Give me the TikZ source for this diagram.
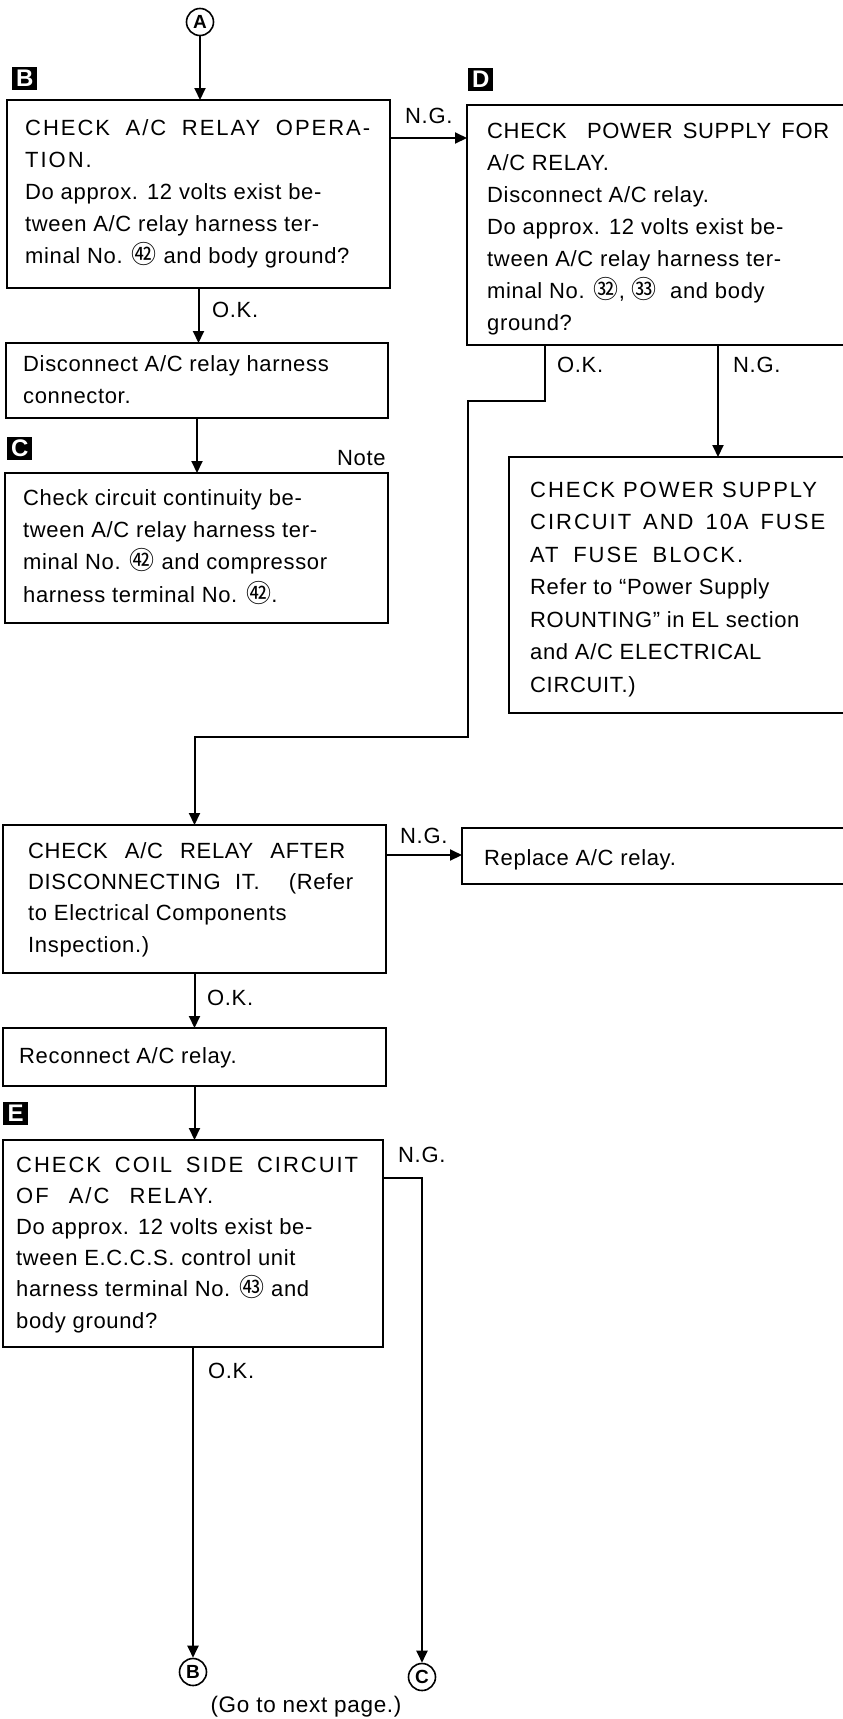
\documentclass[tikz,border=0pt]{standalone}
\usepackage{fontspec}
\setmainfont{Liberation Sans}[LetterSpace=3]
\newfontfamily\cjk{Noto Sans CJK JP}
\usetikzlibrary{arrows.meta}
\newcommand{\cn}[1]{{\cjk\fontsize{25}{25}\selectfont #1}}
\newcommand{\jl}[2]{\makebox[#1pt][s]{#2}}
\newcommand{\hd}[2]{\makebox[#1pt][s]{\addfontfeature{LetterSpace=9}#2}}
\tikzset{
  box/.style={draw, line width=2pt, rectangle, inner sep=0pt, outer sep=0pt, anchor=north west},
  txt/.style={anchor=base west, inner sep=0pt, align=left, font=\fontsize{22}{32}\selectfont},
  lbl/.style={anchor=base west, inner sep=0pt, font=\fontsize{22}{22}\selectfont},
  tag/.style={fill=black, text=white, font=\bfseries\fontsize{24}{24}\selectfont, inner sep=0pt, minimum width=25pt, minimum height=23pt, anchor=north west},
  conn/.style={draw, circle, line width=1.6pt, inner sep=0pt, minimum size=27pt, font=\bfseries\fontsize{19}{19}\selectfont},
  arr/.style={line width=2pt, -{Triangle[length=12pt,width=11pt]}}
}
\begin{document}
\begin{tikzpicture}[x=1pt,y=-1pt]
\fill[white] (0,0) rectangle (843,1719);
\clip (0,0) rectangle (843,1719);
% tags and connectors
\node[tag] (tB) at (12,67) {B};
\node[tag] (tD) at (468,68) {D};
\node[tag] (tC) at (7,437) {C};
\node[tag] (tE) at (3,1102) {E};
\node[conn] (cA) at (200,22) {A};
\node[conn] (cB) at (193,1672) {B};
\node[conn] (cC) at (422,1677) {C};
% boxes
\node[box, minimum width=383pt, minimum height=188pt] (bB) at (7,100) {};
\node[box, minimum width=382pt, minimum height=75pt] (bDi) at (6,343) {};
\node[box, minimum width=383pt, minimum height=150pt] (bC) at (5,473) {};
\node[box, minimum width=400pt, minimum height=240pt] (bD) at (467,105) {};
\node[box, minimum width=360pt, minimum height=256pt] (bPS) at (509,457) {};
\node[box, minimum width=383pt, minimum height=148pt] (bRA) at (3,825) {};
\node[box, minimum width=400pt, minimum height=56pt] (bRep) at (462,828) {};
\node[box, minimum width=383pt, minimum height=58pt] (bRec) at (3,1028) {};
\node[box, minimum width=380pt, minimum height=207pt] (bE) at (3,1140) {};
% texts (anchored at the baseline of the last line)
\node[txt] (xB) at (25,263) {\hd{345}{CHECK A/C RELAY OPERA-}\\\addfontfeature{LetterSpace=9}TION.\\Do approx. 12 volts exist be-\\tween A/C relay harness ter-\\minal No. \cn{㊷} and body ground?};
\node[txt] (xDi) at (23,403) {Disconnect A/C relay harness\\connector.};
\node[txt, font=\fontsize{22}{32.3}\selectfont] (xC) at (23,602) {Check circuit continuity be-\\tween A/C relay harness ter-\\minal No. \cn{㊷} and compressor\\harness terminal No. \cn{㊷}.};
\node[txt] (xD) at (487,330) {\jl{342}{CHECK\ \ POWER SUPPLY FOR}\\A/C RELAY.\\Disconnect A/C relay.\\Do approx. 12 volts exist be-\\tween A/C relay harness ter-\\minal No. \cn{㉜}, \cn{㉝}\ \ and body\\ground?};
\node[txt, font=\fontsize{22}{32.5}\selectfont] (xPS) at (530,692) {\hd{287}{CHECK POWER SUPPLY}\\\hd{295}{CIRCUIT AND 10A FUSE}\\\hd{213}{AT FUSE BLOCK.}\\Refer to “Power Supply\\ROUNTING” in EL section\\and A/C ELECTRICAL\\CIRCUIT.)};
\node[txt, font=\fontsize{22}{31.3}\selectfont] (xRA) at (28,952) {\jl{317}{CHECK A/C RELAY AFTER}\\\jl{325}{DISCONNECTING IT.\ \ (Refer}\\to Electrical Components\\Inspection.)};
\node[txt] (xRep) at (484,865) {Replace A/C relay.};
\node[txt] (xRec) at (19,1063) {Reconnect A/C relay.};
\node[txt, font=\fontsize{22}{31.2}\selectfont] (xE) at (16,1328) {\hd{342}{CHECK COIL SIDE CIRCUIT}\\\hd{197}{OF A/C RELAY.}\\Do approx. 12 volts exist be-\\tween E.C.C.S. control unit\\harness terminal No. \cn{㊸} and\\body ground?};
% labels
\node[lbl] (l1) at (405,123) {N.G.};
\node[lbl] (l2) at (212,317) {O.K.};
\node[lbl] (l3) at (337,465) {Note};
\node[lbl] (l4) at (557,372) {O.K.};
\node[lbl] (l5) at (733,372) {N.G.};
\node[lbl] (l6) at (400,843) {N.G.};
\node[lbl] (l7) at (207,1005) {O.K.};
\node[lbl] (l8) at (398,1162) {N.G.};
\node[lbl] (l9) at (208,1378) {O.K.};
\node[anchor=base, inner sep=0pt, font=\fontsize{22.5}{22.5}\selectfont] (go) at (306,1712) {(Go to next page.)};
% connectors
\draw[arr] (cA) -- (cA |- bB.north);
\coordinate (p1) at (390,138);
\draw[arr] (bB.east |- p1) -- (p1 -| bD.west);
\draw[arr] (bB.south) -- (bB.south |- bDi.north);
\draw[arr] (bDi.south) -- (bDi.south |- bC.north);
\coordinate (d1) at (545,401);
\coordinate (d2) at (468,737);
\draw[arr] (bD.south -| d1) -- (d1) -- (d1 -| d2) -- (d2) -- (d2 -| bRA.north) -- (bRA.north);
\coordinate (d3) at (718,400);
\draw[arr] (bD.south -| d3) -- (bPS.north -| d3);
\coordinate (p2) at (0,855);
\draw[arr] (bRA.east |- p2) -- (bRep.west |- p2);
\draw[arr] (bRA.south) -- (bRec.north);
\draw[arr] (bRec.south) -- (bRec.south |- bE.north);
\draw[arr] (cB |- bE.south) -- (cB);
\coordinate (p3) at (423,1178);
\draw[arr] (bE.east |- p3) -- (p3 -| cC) -- (cC);
\end{tikzpicture}
\end{document}
